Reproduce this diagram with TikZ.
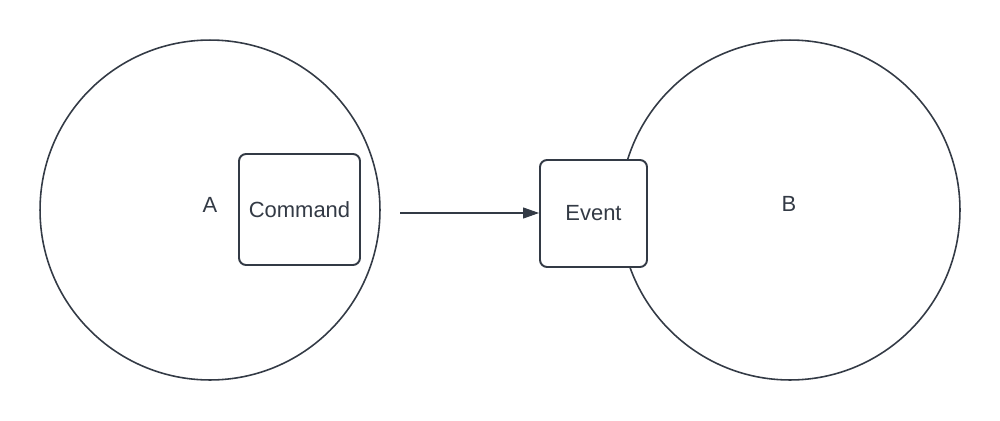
\documentclass[tikz,border=0pt]{standalone}
\usepackage{fontspec}
\setmainfont{Liberation Sans}
\usetikzlibrary{positioning,arrows.meta}
\definecolor{ink}{HTML}{333A45}
\tikzset{
  zona/.style    = {draw=ink, circle, line width=0.9pt, minimum size=6.8cm, inner sep=0pt},
  cutie/.style   = {draw=ink, fill=white, rounded corners=4pt, line width=1.1pt,
                    align=center, inner sep=0pt, text=ink},
  eticheta/.style = {text=ink, inner sep=1pt},
  sageata/.style = {-{Triangle[length=3.2mm, width=2.2mm]}, draw=ink, line width=0.6pt}
}
\begin{document}
\begin{tikzpicture}[x=0.02cm, y=-0.02cm, font=\fontsize{12.5}{15}\selectfont]
  \useasboundingbox (0,0) rectangle (1000,420);

  \node[zona] (zonaA) at (210,210) {};
  \node[zona] (zonaB) at (790,210) {};

  \node[eticheta] (etA) at (210,205) {A};
  \node[eticheta] (etB) at (789,204) {B};

  \node[cutie, minimum width=2.42cm, minimum height=2.22cm] (comanda) at (299.5,209.5) {Command};
  \node[cutie, minimum width=2.14cm, minimum height=2.14cm] (eveniment) at (593.5,213.5) {Event};

  \coordinate (start) at (400,213);
  \draw[sageata] (start) -- (eveniment.west |- start);
\end{tikzpicture}
\end{document}
